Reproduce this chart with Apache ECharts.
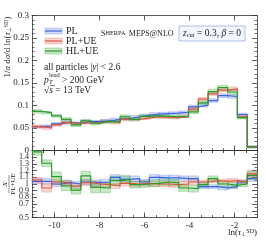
<!DOCTYPE html>
<html><head><meta charset="utf-8">
<script src="https://cdn.jsdelivr.net/npm/echarts@6/dist/echarts.min.js"></script>
<style>html,body{margin:0;padding:0;background:#fff}#c{width:266px;height:240px}</style>
</head><body><div id="c"></div>
<script>
// ---- data ----
const binEdges = [-11, -10.565, -10.130, -9.696, -9.261, -8.826, -8.391, -7.957, -7.522, -7.087, -6.652, -6.217, -5.783, -5.348, -4.913, -4.478, -4.043, -3.609, -3.174, -2.739, -2.304, -1.870, -1.435, -1.0];
const seriesNames = ['PL', 'PL+UE', 'HL+UE'];
const plMain   = [0.053,0.054,0.059,0.063,0.060,0.064,0.064,0.066,0.069,0.071,0.075,0.078,0.081,0.082,0.083,0.085,0.097,0.101,0.111,0.122,0.120,0.080,0.008];
const pluMain  = [0.053,0.050,0.057,0.062,0.060,0.062,0.062,0.065,0.062,0.069,0.069,0.072,0.075,0.074,0.073,0.076,0.092,0.114,0.126,0.134,0.137,0.075,0.008];
const hluMain  = [0.087,0.084,0.077,0.069,0.057,0.066,0.061,0.064,0.064,0.075,0.069,0.076,0.077,0.076,0.075,0.076,0.086,0.106,0.131,0.140,0.130,0.073,0.008];
const plMainErr  = [0.003,0.003,0.003,0.003,0.003,0.003,0.003,0.003,0.003,0.003,0.003,0.003,0.003,0.003,0.003,0.003,0.004,0.004,0.004,0.004,0.004,0.003,0.002];
const pluMainErr = [0.003,0.003,0.003,0.003,0.003,0.003,0.003,0.003,0.003,0.003,0.003,0.003,0.003,0.003,0.003,0.003,0.004,0.004,0.004,0.004,0.004,0.003,0.002];
const hluMainErr = [0.004,0.003,0.003,0.004,0.004,0.003,0.004,0.003,0.003,0.004,0.003,0.003,0.003,0.003,0.003,0.003,0.004,0.004,0.005,0.005,0.005,0.003,0.002];
const plRatio  = [1.04,1.04,1.00,1.02,1.00,1.03,1.02,1.03,1.10,1.07,1.08,1.03,1.10,1.09,1.09,1.08,1.08,0.96,0.96,0.94,0.96,1.03,1.08];
const pluRatio = [1.06,0.94,1.03,1.01,0.97,1.02,1.00,0.99,0.97,1.01,1.00,1.01,1.00,1.00,0.99,1.00,1.03,1.03,1.05,1.04,1.05,1.03,1.15];
const hluRatio = [1.48,1.31,1.11,0.97,0.91,1.12,0.95,0.94,1.05,1.07,0.99,1.00,1.01,1.03,1.02,0.94,0.93,0.99,1.08,1.00,0.98,1.00,1.13];
const plRatioErr  = [0.04,0.04,0.04,0.04,0.04,0.04,0.04,0.04,0.04,0.04,0.04,0.04,0.04,0.04,0.04,0.04,0.04,0.03,0.03,0.03,0.03,0.03,0.04];
const pluRatioErr = [0.04,0.06,0.04,0.04,0.04,0.04,0.04,0.04,0.04,0.04,0.04,0.04,0.04,0.04,0.04,0.04,0.04,0.03,0.03,0.03,0.03,0.03,0.05];
const hluRatioErr = [0.05,0.05,0.07,0.07,0.06,0.07,0.08,0.07,0.06,0.06,0.05,0.05,0.05,0.05,0.05,0.05,0.05,0.04,0.04,0.04,0.04,0.04,0.06];
const xMajorTicks = [-10, -8, -6, -4, -2];

// ---- style ----
const FONT = 'Liberation Serif';
const lineColors = ['#3d63e0', '#e2533e', '#2b9b2b'];
const bandFills = ['rgba(95,130,235,0.28)', 'rgba(235,115,100,0.28)', 'rgba(80,180,80,0.32)'];
const bandStrokes = ['rgba(95,130,235,0.55)', 'rgba(235,115,100,0.55)', 'rgba(80,180,80,0.6)'];
const frame = '#333';

function bandSeries(vals, errs, idx, gi) {
  return {
    type: 'custom', xAxisIndex: gi * 4, yAxisIndex: gi * 2, silent: true, z: 2,
    data: vals.map((v, i) => [binEdges[i], binEdges[i + 1], v - errs[i], v + errs[i]]),
    encode: { x: [0, 1], y: [2, 3] },
    renderItem(params, api) {
      const p0 = api.coord([api.value(0), api.value(3)]);
      const p1 = api.coord([api.value(1), api.value(2)]);
      const cs = params.coordSys;
      const shape = echarts.graphic.clipRectByRect(
        { x: p0[0], y: p0[1], width: p1[0] - p0[0], height: p1[1] - p0[1] },
        { x: cs.x, y: cs.y, width: cs.width, height: cs.height });
      return shape && { type: 'rect', shape, style: { fill: bandFills[idx], stroke: bandStrokes[idx], lineWidth: 0.6 } };
    }
  };
}
function stepSeries(vals, idx, gi) {
  const data = binEdges.map((e, i) => [e, vals[Math.min(i, vals.length - 1)]]);
  return {
    type: 'line', step: 'end', symbol: 'none', xAxisIndex: gi * 4, yAxisIndex: gi * 2, z: 3,
    data, clip: true, lineStyle: { color: lineColors[idx], width: 1.2 }, animation: false
  };
}

function xAxes(gi, withLabels) {
  const base = { type: 'value', gridIndex: gi, min: -11, max: -1, splitLine: { show: false } };
  return [
    Object.assign({}, base, { position: 'bottom',
      axisLine: { show: true, onZero: false, lineStyle: { color: frame, width: gi === 0 ? 1 : 0.8 } },
      axisTick: { show: true, inside: true, length: 5, customValues: xMajorTicks, lineStyle: { color: frame, width: 0.8 } },
      axisLabel: withLabels ? { show: true, customValues: xMajorTicks, fontFamily: FONT, fontSize: 9, color: '#222', margin: 4 } : { show: false } }),
    Object.assign({}, base, { position: 'bottom', interval: 0.5,
      axisLine: { show: false }, axisTick: { show: true, inside: true, length: 2.5, lineStyle: { color: frame, width: 0.7 } }, axisLabel: { show: false } }),
    Object.assign({}, base, { position: 'top',
      axisLine: { show: true, onZero: false, lineStyle: { color: frame, width: gi === 1 ? 1 : 0.8 } },
      axisTick: { show: true, inside: true, length: 5, customValues: xMajorTicks, lineStyle: { color: frame, width: 0.8 } }, axisLabel: { show: false } }),
    Object.assign({}, base, { position: 'top', interval: 0.5,
      axisLine: { show: false }, axisTick: { show: true, inside: true, length: 2.5, lineStyle: { color: frame, width: 0.7 } }, axisLabel: { show: false } })
  ];
}
function yAxes(gi, min, max, interval, minorSplit, extraLabel) {
  const base = { type: 'value', gridIndex: gi, min, max, interval, splitLine: { show: false },
    axisLine: { show: true, onZero: false, lineStyle: { color: frame, width: 0.8 } },
    axisTick: { show: true, inside: true, length: 5, lineStyle: { color: frame, width: 0.8 } },
    minorTick: { show: true, splitNumber: minorSplit, length: 2.5, lineStyle: { color: frame, width: 0.7 } } };
  return [
    Object.assign({}, base, { position: 'left',
      axisLabel: Object.assign({ show: true, fontFamily: FONT, fontSize: 9, color: '#222', margin: 3, hideOverlap: false }, extraLabel) }),
    Object.assign({}, base, { position: 'right', axisLabel: { show: false } })
  ];
}

const mainVals = [plMain, pluMain, hluMain];
const mainErrs = [plMainErr, pluMainErr, hluMainErr];
const ratioVals = [plRatio, pluRatio, hluRatio];
const ratioErrs = [plRatioErr, pluRatioErr, hluRatioErr];
const series = [];
for (let i = 0; i < 3; i++) series.push(bandSeries(mainVals[i], mainErrs[i], i, 0));
for (let i = 0; i < 3; i++) series.push(bandSeries(ratioVals[i], ratioErrs[i], i, 1));
for (let i = 0; i < 3; i++) series.push(stepSeries(mainVals[i], i, 0));
for (let i = 0; i < 3; i++) series.push(stepSeries(ratioVals[i], i, 1));

const legendY = [31, 41, 51];
const graphic = [];
seriesNames.forEach((n, i) => {
  graphic.push({ type: 'rect', shape: { x: 45, y: legendY[i] - 3, width: 17, height: 6 }, style: { fill: bandFills[i], stroke: bandStrokes[i], lineWidth: 0.6 }, z: 10 });
  graphic.push({ type: 'line', shape: { x1: 45, y1: legendY[i], x2: 62, y2: legendY[i] }, style: { stroke: lineColors[i], lineWidth: 1.2 }, z: 11 });
  graphic.push({ type: 'text', x: 66, y: legendY[i], z: 11, style: { text: n, font: '10px "Liberation Serif"', fill: '#222', verticalAlign: 'middle' } });
});
// title
graphic.push({ type: 'text', x: 101, y: 33.5, z: 11, style: {
  text: '{b|S}{s|HERPA} {b|MEPS@NLO}', verticalAlign: 'middle', fill: '#222',
  rich: { b: { fontFamily: FONT, fontSize: 8, fill: '#222' }, s: { fontFamily: FONT, fontSize: 6.3, fill: '#222' } } } });
// z_cut box
graphic.push({ type: 'rect', shape: { x: 179, y: 26, width: 66, height: 15 }, style: { fill: '#f4f6fd', stroke: '#9db0e4', lineWidth: 0.8 }, z: 10 });
graphic.push({ type: 'text', x: 212, y: 33.5, z: 11, style: {
  text: '{i|z}{sub|cut} = 0.3, {i|β} = 0', align: 'center', verticalAlign: 'middle', fill: '#222',
  rich: { i: { fontFamily: FONT, fontStyle: 'italic', fontSize: 9.5 }, sub: { fontFamily: FONT, fontSize: 6.5, verticalAlign: 'bottom', padding: [4, 0, 0, 0] } },
  font: '9.5px "Liberation Serif"' } });
// annotations
graphic.push({ type: 'text', x: 44, y: 67, z: 11, style: { text: 'all particles |{i|y}| < 2.6', verticalAlign: 'middle', fill: '#222', font: '9.5px "Liberation Serif"',
  rich: { i: { fontFamily: FONT, fontStyle: 'italic', fontSize: 9.5 } } } });
graphic.push({ type: 'text', x: 44, y: 80, z: 11, style: { text: 'p', verticalAlign: 'middle', fill: '#222', font: 'italic 9.5px "Liberation Serif"' } });
graphic.push({ type: 'text', x: 49, y: 82.5, z: 11, style: { text: 'T', verticalAlign: 'middle', fill: '#222', font: 'italic 6.5px "Liberation Serif"' } });
graphic.push({ type: 'text', x: 49, y: 75.5, z: 11, style: { text: 'lead', verticalAlign: 'middle', fill: '#222', font: '6.5px "Liberation Serif"' } });
graphic.push({ type: 'text', x: 62, y: 80, z: 11, style: { text: '> 200 GeV', verticalAlign: 'middle', fill: '#222', font: '9.5px "Liberation Serif"' } });
graphic.push({ type: 'text', x: 44, y: 90.5, z: 11, style: { text: '√{i|s} = 13 TeV', verticalAlign: 'middle', fill: '#222', font: '9.5px "Liberation Serif"',
  rich: { i: { fontFamily: FONT, fontStyle: 'italic', fontSize: 9.5 } } } });
graphic.push({ type: 'line', shape: { x1: 50, y1: 85.5, x2: 55, y2: 85.5 }, style: { stroke: '#222', lineWidth: 0.6 }, z: 11 });
// main y title
graphic.push({ type: 'text', x: 8, y: 47, rotation: Math.PI / 2, z: 11, style: {
  text: '1/{i|σ} d{i|σ}/d ln({i|τ}{sub|⊥}{sup|SD})', align: 'center', verticalAlign: 'middle', fill: '#222', font: '9px "Liberation Serif"',
  rich: { i: { fontFamily: FONT, fontStyle: 'italic', fontSize: 9 }, sub: { fontFamily: FONT, fontSize: 6, verticalAlign: 'bottom' }, sup: { fontFamily: FONT, fontSize: 6, verticalAlign: 'top' } } } });
// ratio y title
graphic.push({ type: 'group', x: 9, y: 184, rotation: Math.PI / 2, z: 11, children: [
  { type: 'text', x: 0, y: -4, style: { text: 'X', align: 'center', verticalAlign: 'middle', fill: '#222', font: 'italic 7px "Liberation Serif"' } },
  { type: 'line', shape: { x1: -9, y1: 0, x2: 9, y2: 0 }, style: { stroke: '#222', lineWidth: 0.5 } },
  { type: 'text', x: 0, y: 4, style: { text: 'PL+UE', align: 'center', verticalAlign: 'middle', fill: '#222', font: '7px "Liberation Serif"' } }
] });
// x title
graphic.push({ type: 'text', x: 257, y: 233, z: 11, style: {
  text: 'ln({i|τ}{sub|⊥}{sup|SD})', align: 'right', verticalAlign: 'middle', fill: '#222', font: '9px "Liberation Serif"',
  rich: { i: { fontFamily: FONT, fontStyle: 'italic', fontSize: 9 }, sub: { fontFamily: FONT, fontSize: 6, verticalAlign: 'bottom' }, sup: { fontFamily: FONT, fontSize: 6, verticalAlign: 'top' } } } });

const chart = echarts.init(document.getElementById('c'), null, { renderer: 'canvas' });
chart.setOption({
  animation: false,
  backgroundColor: '#fff',
  grid: [
    { left: 32, right: 9, top: 15.5, height: 135 },
    { left: 32, right: 9, top: 150.5, height: 67 }
  ],
  xAxis: [].concat(xAxes(0, false), xAxes(1, true)),
  yAxis: [].concat(
    yAxes(0, 0, 0.3, 0.05, 5, {}),
    yAxes(1, 0.5, 1.5, 0.1, 2, { showMaxLabel: false, showMinLabel: true, fontSize: 8 })),
  series,
  graphic
});
</script>
</body></html>
